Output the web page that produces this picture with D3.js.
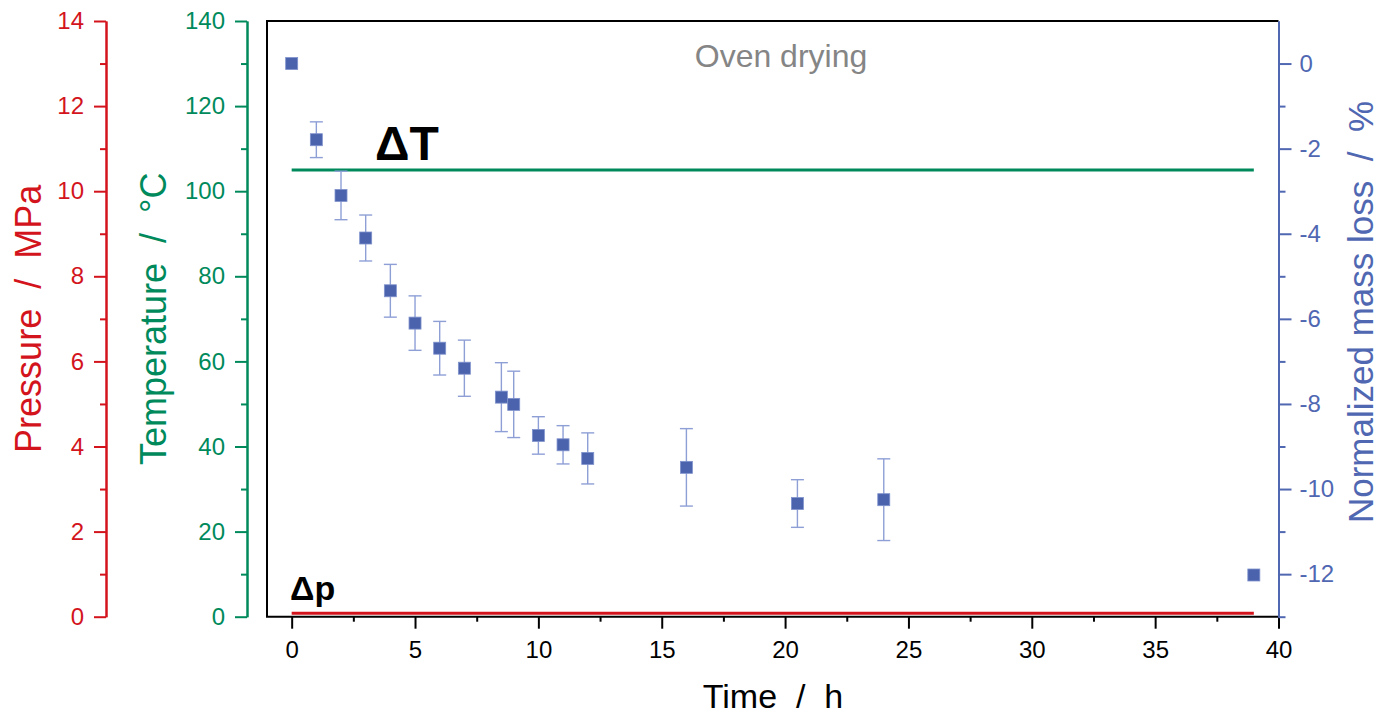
<!DOCTYPE html>
<html>
<head>
<meta charset="utf-8">
<script src="https://cdn.jsdelivr.net/npm/d3@7"></script>
<style>
  html, body { margin: 0; padding: 0; background: #fff; }
  svg { display: block; font-family: Arial, "Liberation Sans", sans-serif; }
</style>
</head>
<body>
<svg id="chart" width="1383" height="717"></svg>
<script>
// ---- data ----
const times      = [0, 1, 2, 3, 4, 5, 6, 7, 8.5, 9, 10, 11, 12, 16, 20.5, 24, 39];
const massLoss   = [0, -1.79, -3.10, -4.10, -5.34, -6.10, -6.69, -7.16, -7.84, -8.01, -8.74, -8.96, -9.28, -9.49, -10.34, -10.25, -12.02];
const massErr    = [0, 0.42, 0.57, 0.54, 0.62, 0.64, 0.63, 0.66, 0.81, 0.78, 0.44, 0.45, 0.60, 0.91, 0.56, 0.96, 0];
const tempTimes  = [0, 39];
const temperature = [105, 105];
const presTimes  = [0, 39];
const pressure   = [0.08, 0.08];
const timeTicks  = [0, 5, 10, 15, 20, 25, 30, 35, 40];
const tempTicks  = [0, 20, 40, 60, 80, 100, 120, 140];
const presTicks  = [0, 2, 4, 6, 8, 10, 12, 14];
const massTicks  = [-12, -10, -8, -6, -4, -2, 0];

// ---- layout ----
const L = 267, R = 1278.5, T = 21, B = 616.7;
const RED = "#d3141d", GREEN = "#008a5c", BLUE = "#5067b2", MARK = "#4b62ad", ERR = "#8e9fd6";

const svg = d3.select("#chart");
const x = d3.scaleLinear().domain([-1, 40]).range([L, R]);
const yT = d3.scaleLinear().domain([0, 140]).range([B, T]);
const yP = d3.scaleLinear().domain([0, 14]).range([B, T]);
const yM = d3.scaleLinear().domain([-13, 1]).range([B, T]);

function styleAxis(g, color, fs) {
  g.selectAll("path.domain").attr("stroke", color).attr("stroke-width", 2);
  g.selectAll(".tick line").attr("stroke", color).attr("stroke-width", 2);
  g.selectAll(".tick text").attr("fill", color).style("font-size", fs + "px")
    .style("font-family", "Arial, 'Liberation Sans', sans-serif");
}

// pressure axis
const pX = 106;
const gP = svg.append("g").attr("transform", `translate(${pX},0)`)
  .call(d3.axisLeft(yP).tickValues(d3.range(1, 14, 2)).tickSize(6).tickSizeOuter(0).tickFormat(""));
const gP2 = svg.append("g").attr("transform", `translate(${pX},0)`)
  .call(d3.axisLeft(yP).tickValues(presTicks).tickSize(12).tickSizeOuter(0).tickPadding(10));
styleAxis(gP, RED, 24); styleAxis(gP2, RED, 24);

// temperature axis
const tX = 247;
const gT = svg.append("g").attr("transform", `translate(${tX},0)`)
  .call(d3.axisLeft(yT).tickValues(d3.range(10, 140, 20)).tickSize(6).tickSizeOuter(0).tickFormat(""));
const gT2 = svg.append("g").attr("transform", `translate(${tX},0)`)
  .call(d3.axisLeft(yT).tickValues(tempTicks).tickSize(12).tickSizeOuter(0).tickPadding(10));
styleAxis(gT, GREEN, 24); styleAxis(gT2, GREEN, 24);

// frame
svg.append("path")
  .attr("d", `M${R},${T} L${L},${T} L${L},${B} L${R},${B}`)
  .attr("fill", "none").attr("stroke", "#000").attr("stroke-width", 2);

// bottom axis
const gB = svg.append("g").attr("transform", `translate(0,${B})`)
  .call(d3.axisBottom(x).tickValues(d3.range(2.5, 40, 5)).tickSize(5).tickSizeOuter(0).tickFormat(""));
const gB2 = svg.append("g").attr("transform", `translate(0,${B})`)
  .call(d3.axisBottom(x).tickValues(timeTicks).tickSize(12).tickSizeOuter(0).tickPadding(12));
styleAxis(gB, "#000", 24); styleAxis(gB2, "#000", 24);
gB.select("path.domain").remove(); gB2.select("path.domain").remove();

// right axis
const gR = svg.append("g").attr("transform", `translate(${R},0)`)
  .call(d3.axisRight(yM).tickValues(d3.range(-13, 1, 2)).tickSize(7).tickSizeOuter(0).tickFormat(""));
const gR2 = svg.append("g").attr("transform", `translate(${R},0)`)
  .call(d3.axisRight(yM).tickValues(massTicks).tickSize(13).tickSizeOuter(0).tickPadding(8)
    .tickFormat(d => d3.format("d")(d).replace("−", "-")));
styleAxis(gR, BLUE, 24); styleAxis(gR2, BLUE, 24);

// lines
const tempLine = d3.line().x((d, i) => x(tempTimes[i])).y(d => yT(d));
svg.append("path").datum(temperature).attr("d", tempLine)
  .attr("fill", "none").attr("stroke", GREEN).attr("stroke-width", 3);
const presLine = d3.line().x((d, i) => x(presTimes[i])).y(d => yP(d));
svg.append("path").datum(pressure).attr("d", presLine)
  .attr("fill", "none").attr("stroke", RED).attr("stroke-width", 3);

// error bars
const pts = times.map((t, i) => ({ t, v: massLoss[i], e: massErr[i] }));
const eb = svg.append("g").attr("stroke", ERR).attr("stroke-width", 1.4).attr("fill", "none");
pts.filter(d => d.e > 0).forEach(d => {
  const cx = x(d.t), y1 = yM(d.v + d.e), y2 = yM(d.v - d.e);
  eb.append("line").attr("x1", cx).attr("x2", cx).attr("y1", y1).attr("y2", y2);
  eb.append("line").attr("x1", cx - 6.5).attr("x2", cx + 6.5).attr("y1", y1).attr("y2", y1);
  eb.append("line").attr("x1", cx - 6.5).attr("x2", cx + 6.5).attr("y1", y2).attr("y2", y2);
});

// markers
const ms = 12;
svg.append("g").selectAll("rect").data(pts).join("rect")
  .attr("x", d => x(d.t) - ms / 2).attr("y", d => yM(d.v) - ms / 2)
  .attr("width", ms).attr("height", ms)
  .attr("fill", MARK).attr("stroke", "#7f92cc").attr("stroke-width", 0.8);

// texts
svg.append("text").attr("x", 781).attr("y", 67).attr("text-anchor", "middle")
  .attr("fill", "#858585").style("font-size", "32px").text("Oven drying");
svg.append("text").attr("x", 375).attr("y", 160)
  .attr("fill", "#000").style("font-size", "48px").style("font-weight", "bold").text("ΔT");
svg.append("text").attr("x", 290).attr("y", 600)
  .attr("fill", "#000").style("font-size", "34px").style("font-weight", "bold").text("Δp");

// axis titles
svg.append("text").attr("x", 773).attr("y", 708).attr("text-anchor", "middle")
  .attr("fill", "#000").style("font-size", "34px").style("white-space", "pre").text("Time  /  h");
svg.append("text").attr("transform", `translate(41,${(T + B) / 2}) rotate(-90)`).attr("text-anchor", "middle")
  .attr("fill", RED).style("font-size", "36px").style("white-space", "pre").text("Pressure  /  MPa");
svg.append("text").attr("transform", `translate(166,${(T + B) / 2}) rotate(-90)`).attr("text-anchor", "middle")
  .attr("fill", GREEN).style("font-size", "36px").style("white-space", "pre").text("Temperature  /  °C");
svg.append("text").attr("transform", `translate(1373,312) rotate(-90)`).attr("text-anchor", "middle")
  .attr("fill", BLUE).style("font-size", "35px").style("white-space", "pre").text("Normalized mass loss  /  %");
</script>
</body>
</html>
